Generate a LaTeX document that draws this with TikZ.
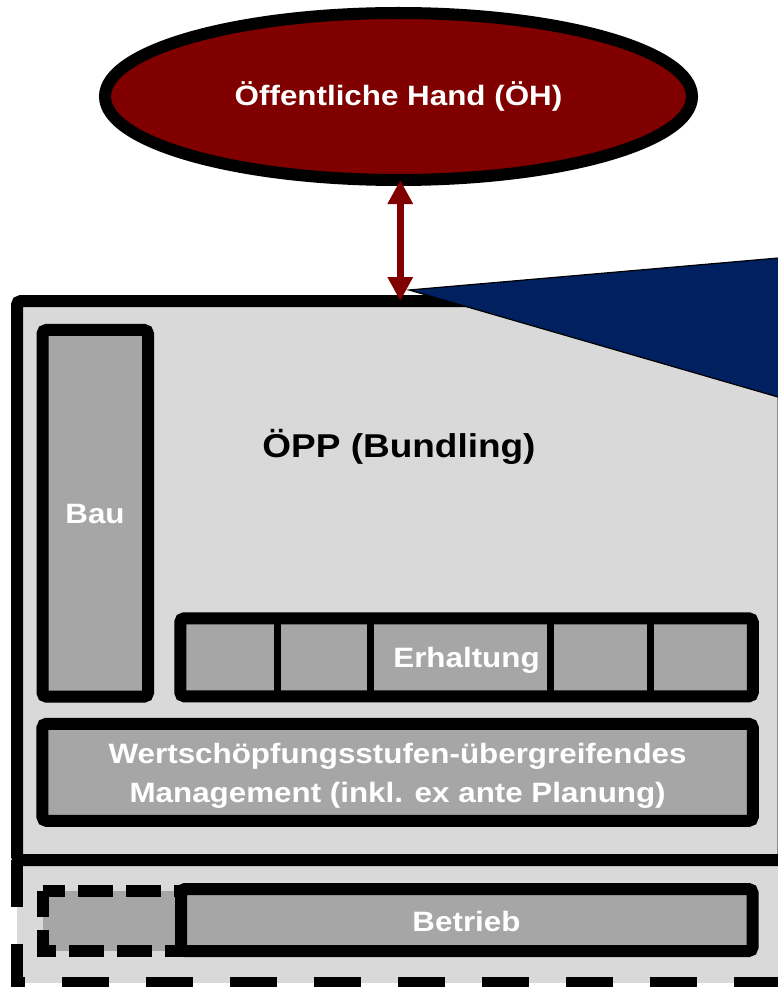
\documentclass[tikz,border=0pt]{standalone}
\usepackage{fontspec}
\setmainfont{Liberation Sans}[FakeStretch=1.12]
\usetikzlibrary{shapes.geometric,arrows.meta}
\definecolor{lgray}{HTML}{D9D9D9}
\definecolor{mgray}{HTML}{A6A6A6}
\definecolor{dred}{HTML}{800000}
\definecolor{navyblue}{HTML}{002060}
\begin{document}
\begin{tikzpicture}[x=1pt,y=-1pt,
  box/.style={draw=black, line width=12pt, fill=mgray, rounded corners=4pt, outer sep=0pt, inner sep=0pt},
  lbl/.style={text=white, font=\fontsize{28}{30}\selectfont\bfseries, anchor=base, inner sep=0pt, outer sep=0pt},
  sep/.style={draw=black, line width=7.3pt},
  arr/.style={draw=dred, line width=7pt, {Triangle[width=24pt,length=24pt]}-{Triangle[width=24pt,length=24pt]}}]
\useasboundingbox (0,0) rectangle (778,987);
\clip (0,0) rectangle (778,987);
% lower (dashed) region
\fill[lgray] (17,860) rectangle (790,983);
\draw[line width=12pt, dash pattern=on 47pt off 37pt] (17,860) -- (17,983) -- (790,983);
% small dashed box
\draw[line width=12pt, fill=mgray, dash pattern=on 35pt off 13pt, dash phase=12.5pt]
  (42.5,891) -- (181,891) -- (181,951) -- (42.5,951) -- cycle;
\node[box, minimum width=571.5pt, minimum height=62pt] (bet) at (466.8,920) {};
% OPP box
\node[box, fill=lgray, minimum width=766.5pt, minimum height=559pt] (opp) at (400.25,580.5) {};
\node[box, minimum width=105.5pt, minimum height=366.7pt] (bau) at (95.25,513.3) {};
\node[box, minimum width=572.5pt, minimum height=78pt] (erh) at (466.5,657.3) {};
\foreach \sx in {277.5,370.5,550.5,650.3}
  \draw[sep] (erh.north -| \sx,0) -- (erh.south -| \sx,0);
\node[box, minimum width=710.3pt, minimum height=97pt] (wert) at (397.6,772.3) {};
% triangle callout
\filldraw[fill=navyblue, draw=black, line width=1.2pt] (409,290) -- (790,257) -- (790,400.5) -- cycle;
% ellipse
\node[ellipse, draw=black, fill=dred, line width=12pt, minimum width=587pt, minimum height=167pt, outer sep=0pt, inner sep=0pt] (oh) at (398.5,96.5) {};
\draw[arr] (opp.north |- oh.south) -- (opp.north);
% texts
\node[lbl] (tOH) at (398.5,106) {Öffentliche Hand (ÖH)};
\node[lbl, text=black, font=\fontsize{33}{36}\selectfont\bfseries] (tOPP) at (399,457.7) {ÖPP (Bundling)};
\node[lbl] (tBau) at (95,523.3) {Bau};
\node[lbl] (tErh) at (466.5,667) {Erhaltung};
\node[lbl] (tW1) at (397.6,763) {Wertschöpfungsstufen-übergreifendes};
\node[lbl] (tW2) at (397.6,802) {Management (inkl. ex ante Planung)};
\node[lbl] (tBet) at (466.5,931.7) {Betrieb};
\end{tikzpicture}
\end{document}
